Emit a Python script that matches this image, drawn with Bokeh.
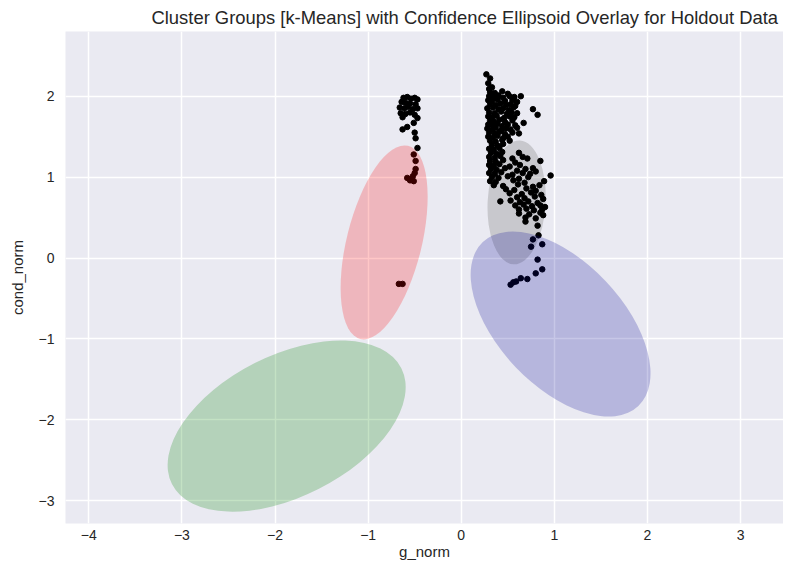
from bokeh.plotting import figure
from bokeh.models import Range1d, FixedTicker
from bokeh.embed import file_html
from bokeh.resources import INLINE

# ---- data ----
x_ticks = [-4, -3, -2, -1, 0, 1, 2, 3]
x_tick_labels = ["\u22124", "\u22123", "\u22122", "\u22121", "0", "1", "2", "3"]
y_ticks = [-3, -2, -1, 0, 1, 2]
y_tick_labels = ["\u22123", "\u22122", "\u22121", "0", "1", "2"]

# confidence ellipses: centre, width (x units), height (y units), angle (deg)
# the grey one sits under the points, the others are drawn over them
grey_cx, grey_cy, grey_w, grey_h, grey_angle = [0.595], [0.688], [1.332], [0.717], [87.0]
ell_color = ["#FF0000", "#008000", "#000090"]
ell_alpha = [0.22, 0.23, 0.22]
ell_cx = [-0.828, -1.875, 1.067]
ell_cy = [0.193, -2.078, -0.816]
ell_w = [2.137, 2.760, 2.427]
ell_h = [0.927, 1.745, 1.540]
ell_angle = [76.1, 26.8, -46.5]

left_pts = [
    (-0.62, 1.98), (-0.58, 1.99), (-0.54, 1.97), (-0.50, 1.98), (-0.47, 1.96),
    (-0.64, 1.93), (-0.60, 1.92), (-0.55, 1.91), (-0.49, 1.90), (-0.66, 1.86),
    (-0.61, 1.85), (-0.57, 1.87), (-0.52, 1.84), (-0.47, 1.85), (-0.65, 1.79),
    (-0.60, 1.78), (-0.55, 1.80), (-0.50, 1.77), (-0.63, 1.74), (-0.47, 1.73),
    (-0.51, 1.67), (-0.58, 1.62), (-0.63, 1.59), (-0.50, 1.55), (-0.49, 1.48),
    (-0.47, 1.36), (-0.51, 1.28), (-0.49, 1.20), (-0.49, 1.10), (-0.50, 1.05),
    (-0.58, 0.99), (-0.52, 1.01), (-0.54, 0.97), (-0.51, 0.95), (-0.55, 0.96),
    (-0.67, -0.32), (-0.63, -0.32),
]

right_pts = [
    (0.27, 2.27), (0.31, 2.22), (0.29, 2.16), (0.33, 2.11), (0.30, 2.09),
    (0.31, 2.05), (0.36, 2.04), (0.44, 2.06), (0.50, 2.03),
    (0.30, 2.00), (0.35, 1.99), (0.40, 2.01), (0.45, 1.98), (0.52, 2.00), (0.57, 1.99), (0.64, 2.00),
    (0.29, 1.95), (0.33, 1.94), (0.39, 1.96), (0.47, 1.94), (0.55, 1.95), (0.60, 1.93),
    (0.31, 1.90), (0.37, 1.89), (0.42, 1.91), (0.48, 1.89), (0.53, 1.90), (0.58, 1.88),
    (0.28, 1.85), (0.34, 1.86), (0.40, 1.84), (0.45, 1.85), (0.51, 1.83), (0.56, 1.86), (0.77, 1.84),
    (0.30, 1.80), (0.36, 1.79), (0.43, 1.81), (0.49, 1.78), (0.54, 1.80), (0.60, 1.79),
    (0.29, 1.75), (0.33, 1.74), (0.38, 1.76), (0.46, 1.73), (0.52, 1.75), (0.57, 1.74), (0.82, 1.77),
    (0.31, 1.70), (0.35, 1.69), (0.41, 1.71), (0.47, 1.68), (0.55, 1.70), (0.67, 1.67),
    (0.29, 1.65), (0.34, 1.64), (0.39, 1.66), (0.44, 1.63), (0.50, 1.65), (0.58, 1.64),
    (0.28, 1.60), (0.33, 1.59), (0.37, 1.61), (0.43, 1.58), (0.48, 1.60), (0.53, 1.59), (0.60, 1.61),
    (0.30, 1.55), (0.36, 1.54), (0.41, 1.56), (0.47, 1.53), (0.55, 1.55), (0.62, 1.54),
    (0.29, 1.50), (0.34, 1.49), (0.39, 1.51), (0.45, 1.48), (0.50, 1.50),
    (0.31, 1.45), (0.37, 1.44), (0.44, 1.46), (0.52, 1.45),
    (0.33, 1.40), (0.39, 1.39), (0.45, 1.41),
    (0.30, 1.35), (0.35, 1.34), (0.41, 1.36),
    (0.32, 1.30), (0.38, 1.29), (0.44, 1.31), (0.62, 1.30),
    (0.30, 1.25), (0.36, 1.24), (0.42, 1.26), (0.55, 1.23), (0.66, 1.25),
    (0.31, 1.20), (0.37, 1.19), (0.45, 1.21), (0.58, 1.18), (0.71, 1.23), (0.85, 1.20),
    (0.30, 1.15), (0.35, 1.14), (0.41, 1.16), (0.52, 1.13), (0.63, 1.15), (0.77, 1.11),
    (0.32, 1.10), (0.38, 1.09), (0.47, 1.11), (0.60, 1.08), (0.69, 1.10), (0.80, 1.07),
    (0.30, 1.05), (0.36, 1.04), (0.43, 1.06), (0.55, 1.03), (0.66, 1.05), (0.74, 1.04),
    (0.33, 1.00), (0.40, 0.99), (0.50, 1.01), (0.62, 0.98), (0.72, 1.00), (0.96, 1.02),
    (0.31, 0.95), (0.37, 0.94), (0.56, 0.96), (0.68, 0.93), (0.89, 0.95),
    (0.35, 0.90), (0.45, 0.89), (0.61, 0.91), (0.77, 0.88), (0.84, 0.90),
    (0.48, 0.85), (0.57, 0.84), (0.70, 0.86), (0.80, 0.83),
    (0.52, 0.80), (0.65, 0.79), (0.75, 0.81), (0.86, 0.78),
    (0.60, 0.75), (0.68, 0.74), (0.79, 0.76), (0.88, 0.73),
    (0.42, 0.70), (0.53, 0.71), (0.63, 0.69), (0.72, 0.70), (0.82, 0.68),
    (0.58, 0.65), (0.67, 0.66), (0.76, 0.64), (0.85, 0.65), (0.90, 0.63),
    (0.62, 0.60), (0.70, 0.61), (0.78, 0.59), (0.87, 0.60),
    (0.62, 0.55), (0.73, 0.54), (0.85, 0.56), (0.88, 0.53),
    (0.69, 0.50), (0.80, 0.49),
    (0.69, 0.45), (0.82, 0.40),
    (0.83, 0.28), (0.77, 0.23), (0.87, 0.17), (0.75, 0.14),
    (0.82, -0.02), (0.87, -0.14), (0.80, -0.19), (0.71, -0.26), (0.64, -0.25),
    (0.59, -0.29), (0.56, -0.30), (0.53, -0.33),
]

pts = left_pts + right_pts
px = [a for a, b in pts]
py = [b for a, b in pts]

FONT = "Liberation Sans"
TXT = "#262626"

p = figure(
    frame_width=718, frame_height=492,
    x_range=Range1d(-4.25, 3.461), y_range=Range1d(-3.282, 2.80),
    output_backend="svg", toolbar_location=None,
    title="Cluster Groups [k-Means] with Confidence Ellipsoid Overlay for Holdout Data",
    min_border_left=65, min_border_right=0, min_border_top=30, min_border_bottom=41,
    x_axis_label="g_norm", y_axis_label="cond_norm",
)
p.background_fill_color = "#EAEAF2"
p.border_fill_color = "white"
p.outline_line_color = None

p.title.text_font = FONT
p.title.text_font_size = "18.4px"
p.title.text_font_style = "normal"
p.title.text_color = TXT
p.title.align = "left"
p.title.offset = 86
p.title.standoff = 8

p.xaxis.ticker = FixedTicker(ticks=x_ticks)
p.yaxis.ticker = FixedTicker(ticks=y_ticks)
p.xaxis.major_label_overrides = dict(zip(x_ticks, x_tick_labels))
p.yaxis.major_label_overrides = dict(zip(y_ticks, y_tick_labels))

for ax in (p.xaxis[0], p.yaxis[0]):
    ax.axis_line_color = None
    ax.major_tick_line_color = None
    ax.minor_tick_line_color = None
    ax.major_tick_out = 0
    ax.major_tick_in = 0
    ax.minor_tick_out = 0
    ax.minor_tick_in = 0
    ax.major_label_text_font = FONT
    ax.major_label_text_font_size = "14px"
    ax.major_label_text_color = TXT
    ax.axis_label_text_font = FONT
    ax.axis_label_text_font_size = "15px"
    ax.axis_label_text_font_style = "normal"
    ax.axis_label_text_color = TXT
p.xaxis.major_label_standoff = 6
p.xaxis.axis_label_standoff = 0
p.yaxis.major_label_standoff = 11
p.yaxis.axis_label_standoff = 10

p.grid.grid_line_color = "white"
p.grid.grid_line_width = 1.5

p.ellipse(x=grey_cx, y=grey_cy, width=grey_w, height=grey_h, angle=grey_angle,
          angle_units="deg", fill_color="#808080", fill_alpha=0.32, line_color=None)

p.scatter(px, py, size=5.5, color="black")

p.ellipse(x=ell_cx, y=ell_cy, width=ell_w, height=ell_h, angle=ell_angle,
          angle_units="deg", fill_color=ell_color, fill_alpha=ell_alpha,
          line_color=None)

open("out.html", "w").write(file_html(p, INLINE))
